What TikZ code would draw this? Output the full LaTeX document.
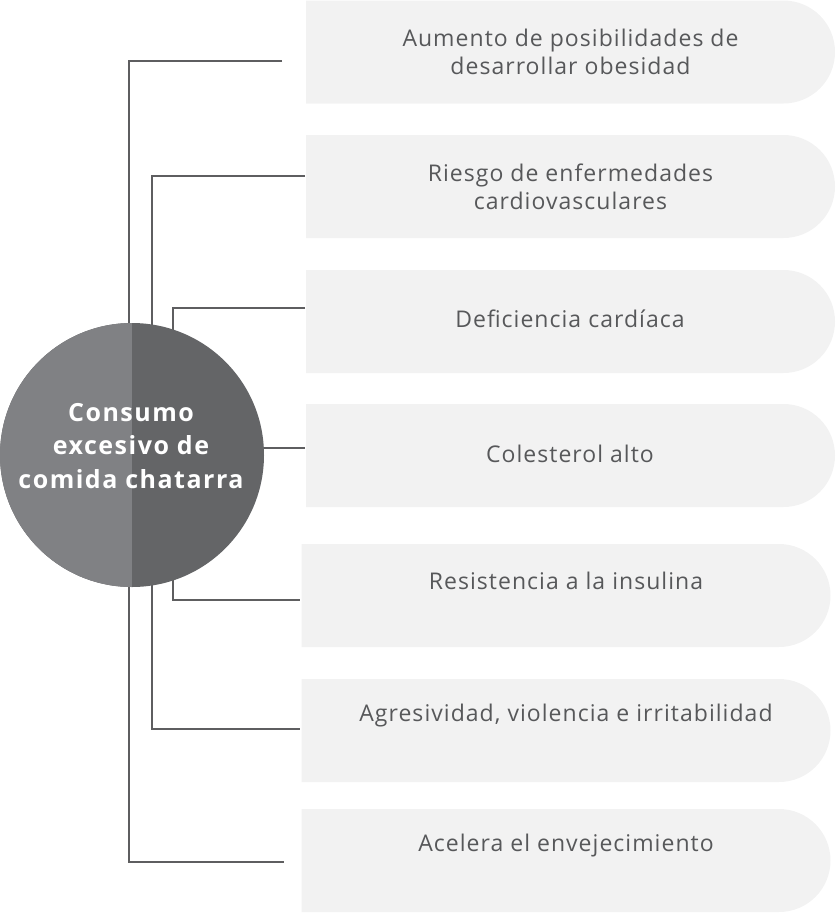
\documentclass[tikz,border=0pt]{standalone}
\usepackage{fontspec}
\setmainfont{Open Sans}[LetterSpace=4.5]
\newfontfamily\causefont{Open Sans}[LetterSpace=6,UprightFont=* Bold]
\usetikzlibrary{positioning,shapes.misc}
\definecolor{linegray}{HTML}{5E5E60}
\definecolor{boxgray}{HTML}{F2F2F2}
\definecolor{textgray}{HTML}{57585A}
\definecolor{lefthalf}{HTML}{808184}
\definecolor{righthalf}{HTML}{646567}

\begin{document}
\begin{tikzpicture}[x=1pt,y=-1pt,
  effect/.style={rounded rectangle,rounded rectangle left arc=none,fill=boxgray,
    minimum width=529pt,minimum height=103pt,inner sep=0pt},
  effecttext/.style={text=textgray,font=\fontsize{23}{28}\selectfont,align=center},
  link/.style={draw=linegray,line width=2pt}]
\useasboundingbox (0,0) rectangle (836,913);

% effect boxes
\node[effect] (e1) at (570.5,52) {};
\node[effect] (e2) at (570.5,186.5) {};
\node[effect] (e3) at (570.5,321.5) {};
\node[effect] (e4) at (570.5,455.5) {};
\node[effect] (e5) at (566,595.5) {};
\node[effect] (e6) at (566,730.5) {};
\node[effect] (e7) at (566,860.5) {};
\node[effecttext] (t1) at (e1) {Aumento de posibilidades de\\desarrollar obesidad};
\node[effecttext] (t2) at (e2) {Riesgo de enfermedades\\cardiovasculares};
\node[effecttext] (t3) at (570,319) {Deficiencia card\'iaca};
\node[effecttext] (t4) at (570,454) {Colesterol alto};
\node[effecttext] (t5) at (566,581) {Resistencia a la insulina};
\node[effecttext] (t6) at (566,716) {Agresividad, violencia e irritabilidad};
\node[effecttext] (t7) at (566,846) {Acelera el envejecimiento};

% connectors, under the circle
\coordinate (hub) at (132,455);
\coordinate (a1) at (282,61);
\coordinate (a2) at (284,862);
\coordinate (b1) at (305,176);
\coordinate (b2) at (300,729);
\coordinate (c1) at (305,308);
\coordinate (c2) at (300,600);
\coordinate (d1) at (305,448);
\draw[link] (a1) -| ([xshift=-3pt]hub) |- (a2);
\draw[link] (b1) -| ([xshift=20pt]hub) |- (b2);
\draw[link] (c1) -| ([xshift=41pt]hub);
\draw[link] ([xshift=41pt]hub) |- (c2);
\draw[link] ([yshift=7pt]hub) -- (d1);

% cause
\node[circle,minimum size=264pt,inner sep=0pt,fill=righthalf,
  path picture={\fill[lefthalf] (path picture bounding box.south west)
    rectangle (path picture bounding box.north);}] (cause) at (hub) {};
\node[text=white,font=\causefont\fontsize{25}{33.5}\selectfont,align=center]
  (causetext) at ([xshift=-1pt,yshift=9pt]cause.center) {Consumo\\excesivo de\\comida chatarra};
\end{tikzpicture}
\end{document}
